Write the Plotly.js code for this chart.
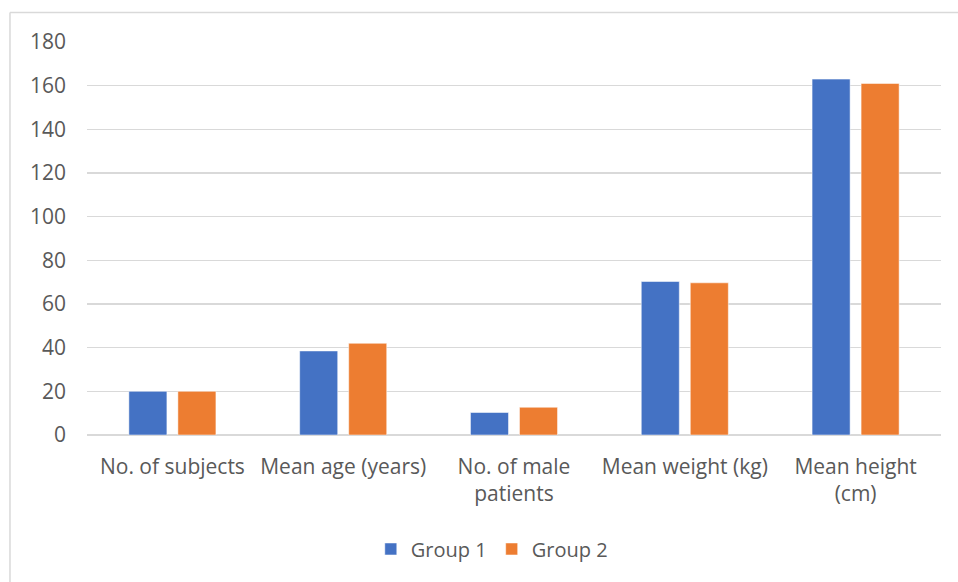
<!DOCTYPE html>
<html>
<head>
<meta charset="utf-8">
<script src="https://cdn.plot.ly/plotly-3.0.1.min.js"></script>
<style>
  html, body { margin: 0; padding: 0; background: #ffffff; }
  #chart { width: 958px; height: 582px; }
</style>
</head>
<body>
<div id="chart"></div>
<script>
const categories = ["No. of subjects", "Mean age (years)", "No. of male<br>patients", "Mean weight (kg)", "Mean height<br>(cm)"];
const group1 = [20, 38.5, 10.3, 70.3, 163];
const group2 = [20, 42, 12.7, 69.7, 161];
const seriesNames = ["Group 1", "Group 2"];
const yTicks = [0, 20, 40, 60, 80, 100, 120, 140, 160, 180];

const fontFamily = "'Open Sans', 'Liberation Sans', sans-serif";
const textColor = "#595959";

const traces = [
  {
    type: "bar", name: seriesNames[0], x: categories, y: group1,
    marker: { color: "#4472C4", line: { color: "rgba(255,255,255,0.5)", width: 1 } },
    hoverinfo: "none"
  },
  {
    type: "bar", name: seriesNames[1], x: categories, y: group2,
    marker: { color: "#ED7D31", line: { color: "rgba(255,255,255,0.5)", width: 1 } },
    hoverinfo: "none"
  }
];

const layout = {
  width: 958, height: 582,
  margin: { l: 87, r: 17, t: 41.5, b: 147 },
  paper_bgcolor: "#ffffff", plot_bgcolor: "#ffffff",
  barmode: "group", bargap: 0.426, bargroupgap: 0.224,
  font: { family: fontFamily, color: textColor, size: 21 },
  xaxis: {
    type: "category",
    showgrid: false, showline: false, zeroline: false,
    ticks: "", tickfont: { family: fontFamily, size: 21, color: textColor },
    ticklabelstandoff: 17
  },
  yaxis: {
    range: [0, 180], tickvals: yTicks, ticktext: yTicks.map(String),
    showgrid: true, gridcolor: "#D9D9D9", gridwidth: 1.5,
    zeroline: true, zerolinecolor: "#D9D9D9", zerolinewidth: 1.5,
    showline: false, ticks: "",
    tickfont: { family: fontFamily, size: 21, color: textColor },
    ticklabelstandoff: 20
  },
  showlegend: true,
  legend: {
    orientation: "h", x: 0.474, xanchor: "center", y: -0.29, yanchor: "middle",
    font: { family: fontFamily, size: 20, color: textColor },
    itemwidth: 30, traceorder: "normal"
  },
  shapes: [
    { type: "line", xref: "paper", yref: "paper", x0: -0.0902, x1: 1.03, y0: 1.075, y1: 1.075,
      line: { color: "#D9D9D9", width: 1.5 } },
    { type: "line", xref: "paper", yref: "paper", x0: -0.0902, x1: -0.0902, y0: 1.075, y1: -0.4,
      line: { color: "#D9D9D9", width: 1.5 } }
  ]
};

Plotly.newPlot("chart", traces, layout, { displayModeBar: false, staticPlot: true });
</script>
</body>
</html>
